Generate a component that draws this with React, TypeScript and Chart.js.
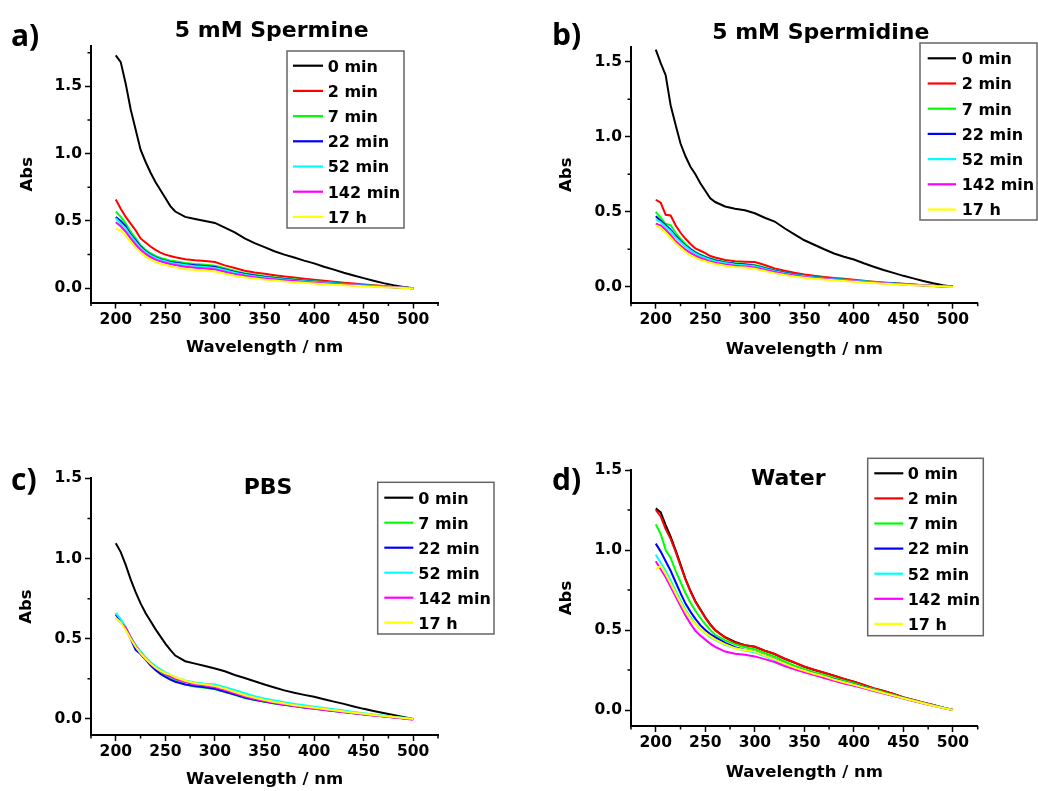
import React, { useEffect, useRef } from "react";
import { Chart, registerables } from "chart.js";

Chart.register(...registerables);

// ---------------- DATA ----------------
const WAVELENGTH = [
  200, 205, 210, 215, 220, 225, 230, 235, 240, 245, 250, 255, 260,
  270, 280, 290, 300, 310, 320, 330, 340, 350, 360, 370, 380, 390, 400,
  410, 420, 430, 440, 450, 460, 470, 480, 490, 500,
];

const LABELS_FULL = ["0 min", "2 min", "7 min", "22 min", "52 min", "142 min", "17 h"];
const LABELS_PBS = ["0 min", "7 min", "22 min", "52 min", "142 min", "17 h"];

const X_TICK_STEP = 25;
const X_LABEL_STEP = 50;
const Y_TICK_STEP = 0.25;
const Y_LABEL_STEP = 0.5;

// a) 5 mM Spermine
const SPERMINE_0 = [1.73, 1.68, 1.52, 1.33, 1.18, 1.03, 0.94, 0.86, 0.79, 0.73, 0.67, 0.61, 0.57, 0.53, 0.515, 0.5, 0.485, 0.45, 0.415, 0.37, 0.335, 0.305, 0.275, 0.25, 0.228, 0.205, 0.185, 0.16, 0.138, 0.115, 0.095, 0.075, 0.056, 0.038, 0.022, 0.01, 0.0];
const SPERMINE_2 = [0.66, 0.59, 0.53, 0.48, 0.43, 0.37, 0.34, 0.31, 0.285, 0.265, 0.25, 0.24, 0.23, 0.215, 0.208, 0.203, 0.195, 0.17, 0.15, 0.13, 0.117, 0.107, 0.097, 0.088, 0.08, 0.071, 0.063, 0.056, 0.048, 0.041, 0.035, 0.028, 0.022, 0.016, 0.01, 0.005, 0.0];
const SPERMINE_7 = [0.57, 0.53, 0.48, 0.42, 0.37, 0.32, 0.285, 0.26, 0.24, 0.225, 0.215, 0.205, 0.2, 0.188, 0.18, 0.175, 0.168, 0.148, 0.128, 0.112, 0.1, 0.09, 0.081, 0.074, 0.066, 0.059, 0.052, 0.046, 0.04, 0.034, 0.029, 0.024, 0.019, 0.014, 0.009, 0.005, 0.0];
const SPERMINE_22 = [0.53, 0.5, 0.46, 0.4, 0.355, 0.31, 0.275, 0.25, 0.23, 0.215, 0.205, 0.195, 0.19, 0.178, 0.17, 0.165, 0.158, 0.14, 0.12, 0.105, 0.094, 0.084, 0.076, 0.069, 0.062, 0.055, 0.049, 0.043, 0.037, 0.032, 0.027, 0.022, 0.017, 0.013, 0.008, 0.004, 0.0];
const SPERMINE_52 = [0.52, 0.48, 0.445, 0.39, 0.345, 0.3, 0.268, 0.245, 0.225, 0.21, 0.2, 0.19, 0.183, 0.172, 0.163, 0.158, 0.15, 0.133, 0.115, 0.1, 0.09, 0.08, 0.072, 0.065, 0.058, 0.052, 0.046, 0.04, 0.035, 0.03, 0.025, 0.021, 0.016, 0.012, 0.008, 0.004, 0.0];
const SPERMINE_142 = [0.49, 0.46, 0.42, 0.37, 0.325, 0.285, 0.255, 0.232, 0.213, 0.2, 0.19, 0.18, 0.172, 0.16, 0.152, 0.147, 0.14, 0.123, 0.105, 0.092, 0.082, 0.073, 0.066, 0.059, 0.053, 0.047, 0.041, 0.036, 0.031, 0.027, 0.022, 0.018, 0.014, 0.01, 0.007, 0.003, 0.0];
const SPERMINE_17H = [0.44, 0.43, 0.39, 0.345, 0.3, 0.265, 0.235, 0.213, 0.195, 0.182, 0.172, 0.163, 0.155, 0.143, 0.136, 0.131, 0.124, 0.108, 0.093, 0.081, 0.072, 0.064, 0.057, 0.051, 0.045, 0.04, 0.035, 0.03, 0.026, 0.022, 0.018, 0.015, 0.011, 0.008, 0.005, 0.002, -0.002];

// b) 5 mM Spermidine
const SPERMIDINE_0 = [1.58, 1.49, 1.41, 1.21, 1.08, 0.955, 0.87, 0.8, 0.75, 0.69, 0.64, 0.59, 0.565, 0.535, 0.52, 0.51, 0.49, 0.46, 0.435, 0.39, 0.35, 0.31, 0.28, 0.25, 0.222, 0.2, 0.182, 0.157, 0.134, 0.112, 0.093, 0.073, 0.056, 0.039, 0.023, 0.01, 0.0];
const SPERMIDINE_2 = [0.58, 0.56, 0.48, 0.475, 0.41, 0.36, 0.32, 0.285, 0.255, 0.24, 0.225, 0.205, 0.195, 0.178, 0.17, 0.167, 0.165, 0.145, 0.122, 0.107, 0.093, 0.082, 0.073, 0.066, 0.059, 0.053, 0.047, 0.04, 0.034, 0.029, 0.024, 0.02, 0.016, 0.011, 0.007, 0.004, 0.0];
const SPERMIDINE_7 = [0.5, 0.46, 0.42, 0.41, 0.36, 0.32, 0.285, 0.255, 0.232, 0.215, 0.2, 0.188, 0.18, 0.166, 0.157, 0.152, 0.145, 0.128, 0.11, 0.096, 0.084, 0.074, 0.066, 0.06, 0.054, 0.048, 0.043, 0.037, 0.032, 0.027, 0.022, 0.018, 0.014, 0.01, 0.006, 0.003, 0.0];
const SPERMIDINE_22 = [0.47, 0.44, 0.41, 0.38, 0.34, 0.305, 0.275, 0.25, 0.228, 0.21, 0.197, 0.185, 0.176, 0.162, 0.153, 0.148, 0.14, 0.124, 0.107, 0.093, 0.082, 0.072, 0.064, 0.058, 0.052, 0.047, 0.042, 0.036, 0.031, 0.026, 0.022, 0.018, 0.014, 0.01, 0.006, 0.003, 0.0];
const SPERMIDINE_52 = [0.45, 0.43, 0.4, 0.37, 0.33, 0.298, 0.268, 0.243, 0.222, 0.205, 0.192, 0.18, 0.171, 0.158, 0.149, 0.144, 0.137, 0.121, 0.104, 0.09, 0.079, 0.07, 0.062, 0.056, 0.05, 0.045, 0.04, 0.035, 0.03, 0.025, 0.021, 0.017, 0.013, 0.009, 0.006, 0.003, 0.0];
const SPERMIDINE_142 = [0.42, 0.41, 0.38, 0.345, 0.305, 0.275, 0.248, 0.226, 0.207, 0.192, 0.18, 0.168, 0.16, 0.148, 0.14, 0.136, 0.128, 0.113, 0.098, 0.085, 0.075, 0.066, 0.059, 0.053, 0.047, 0.042, 0.037, 0.032, 0.028, 0.023, 0.019, 0.016, 0.012, 0.009, 0.005, 0.002, 0.0];
const SPERMIDINE_17H = [0.41, 0.39, 0.36, 0.325, 0.29, 0.26, 0.232, 0.21, 0.193, 0.18, 0.17, 0.16, 0.152, 0.14, 0.132, 0.128, 0.12, 0.105, 0.091, 0.079, 0.069, 0.061, 0.054, 0.048, 0.043, 0.038, 0.033, 0.029, 0.025, 0.021, 0.017, 0.014, 0.011, 0.008, 0.005, 0.002, -0.002];

// c) PBS
const PBS_0 = [1.095, 1.04, 0.96, 0.87, 0.79, 0.72, 0.66, 0.61, 0.56, 0.515, 0.47, 0.43, 0.395, 0.36, 0.345, 0.33, 0.315, 0.297, 0.274, 0.255, 0.235, 0.215, 0.196, 0.178, 0.163, 0.15, 0.138, 0.123, 0.108, 0.094, 0.078, 0.063, 0.05, 0.037, 0.025, 0.012, 0.0];
const PBS_7 = [0.66, 0.62, 0.57, 0.51, 0.46, 0.42, 0.38, 0.345, 0.315, 0.29, 0.27, 0.255, 0.24, 0.215, 0.2, 0.195, 0.185, 0.17, 0.15, 0.13, 0.118, 0.107, 0.097, 0.088, 0.079, 0.072, 0.065, 0.057, 0.05, 0.043, 0.036, 0.029, 0.023, 0.017, 0.011, 0.005, 0.0];
const PBS_22 = [0.65, 0.61, 0.565, 0.5, 0.43, 0.405, 0.37, 0.335, 0.305, 0.28, 0.262, 0.245, 0.232, 0.215, 0.205, 0.198, 0.188, 0.17, 0.152, 0.133, 0.12, 0.108, 0.098, 0.089, 0.08, 0.072, 0.065, 0.057, 0.05, 0.043, 0.036, 0.029, 0.023, 0.017, 0.011, 0.005, 0.0];
const PBS_52 = [0.66, 0.62, 0.57, 0.51, 0.46, 0.42, 0.385, 0.355, 0.33, 0.31, 0.29, 0.275, 0.26, 0.24, 0.228, 0.22, 0.215, 0.198, 0.18, 0.16, 0.142, 0.127, 0.115, 0.104, 0.094, 0.085, 0.076, 0.068, 0.06, 0.052, 0.044, 0.036, 0.028, 0.021, 0.014, 0.007, 0.0];
const PBS_142 = [0.63, 0.6, 0.57, 0.51, 0.455, 0.41, 0.375, 0.345, 0.32, 0.298, 0.28, 0.265, 0.25, 0.23, 0.215, 0.208, 0.198, 0.18, 0.16, 0.14, 0.125, 0.112, 0.1, 0.09, 0.08, 0.072, 0.064, 0.056, 0.049, 0.042, 0.035, 0.028, 0.021, 0.015, 0.009, 0.003, -0.005];
const PBS_17H = [0.63, 0.6, 0.555, 0.5, 0.45, 0.41, 0.375, 0.345, 0.32, 0.3, 0.285, 0.275, 0.26, 0.238, 0.222, 0.215, 0.205, 0.188, 0.168, 0.148, 0.132, 0.118, 0.106, 0.096, 0.086, 0.078, 0.07, 0.062, 0.054, 0.046, 0.039, 0.032, 0.025, 0.018, 0.012, 0.006, 0.0];

// d) Water
const WATER_0 = [1.26, 1.235, 1.155, 1.083, 1.0, 0.91, 0.82, 0.745, 0.68, 0.63, 0.58, 0.535, 0.5, 0.455, 0.425, 0.405, 0.395, 0.37, 0.35, 0.32, 0.296, 0.27, 0.25, 0.233, 0.215, 0.194, 0.177, 0.156, 0.135, 0.119, 0.1, 0.079, 0.062, 0.046, 0.031, 0.015, 0.0];
const WATER_2 = [1.25, 1.21, 1.13, 1.07, 0.99, 0.9, 0.815, 0.74, 0.675, 0.625, 0.575, 0.532, 0.497, 0.452, 0.42, 0.405, 0.395, 0.37, 0.35, 0.322, 0.297, 0.272, 0.252, 0.233, 0.214, 0.194, 0.177, 0.157, 0.136, 0.119, 0.1, 0.08, 0.063, 0.047, 0.031, 0.015, 0.0];
const WATER_7 = [1.16, 1.1, 1.0, 0.95, 0.87, 0.8, 0.73, 0.67, 0.62, 0.575, 0.535, 0.5, 0.47, 0.435, 0.41, 0.392, 0.38, 0.355, 0.333, 0.303, 0.277, 0.255, 0.235, 0.219, 0.199, 0.183, 0.167, 0.147, 0.13, 0.111, 0.094, 0.077, 0.06, 0.044, 0.029, 0.015, 0.0];
const WATER_22 = [1.04, 0.99, 0.93, 0.87, 0.8, 0.73, 0.665, 0.615, 0.57, 0.53, 0.5, 0.475, 0.455, 0.42, 0.392, 0.375, 0.365, 0.34, 0.318, 0.29, 0.265, 0.245, 0.227, 0.21, 0.192, 0.175, 0.16, 0.142, 0.125, 0.107, 0.09, 0.075, 0.058, 0.043, 0.028, 0.014, 0.0];
const WATER_52 = [0.97, 0.92, 0.87, 0.81, 0.745, 0.685, 0.625, 0.58, 0.54, 0.505, 0.478, 0.455, 0.437, 0.408, 0.387, 0.372, 0.36, 0.336, 0.312, 0.285, 0.262, 0.243, 0.225, 0.208, 0.19, 0.173, 0.158, 0.14, 0.123, 0.106, 0.09, 0.074, 0.058, 0.042, 0.028, 0.014, 0.0];
const WATER_142 = [0.93, 0.88, 0.83, 0.77, 0.71, 0.65, 0.59, 0.54, 0.495, 0.465, 0.44, 0.415, 0.395, 0.365, 0.352, 0.345, 0.335, 0.318, 0.3, 0.275, 0.255, 0.235, 0.218, 0.2, 0.183, 0.166, 0.152, 0.136, 0.119, 0.103, 0.087, 0.071, 0.056, 0.041, 0.027, 0.013, 0.0];
const WATER_17H = [0.88, 0.9, 0.85, 0.79, 0.73, 0.67, 0.615, 0.57, 0.535, 0.505, 0.48, 0.46, 0.44, 0.41, 0.385, 0.375, 0.365, 0.34, 0.316, 0.29, 0.265, 0.245, 0.226, 0.21, 0.19, 0.173, 0.157, 0.14, 0.123, 0.106, 0.09, 0.074, 0.058, 0.042, 0.027, 0.013, 0.0];

// ---------------- STYLE ----------------
const COLOR_BY_LABEL: Record<string, string> = {
  "0 min": "#000000",
  "2 min": "#ff0000",
  "7 min": "#00ff00",
  "22 min": "#0000ff",
  "52 min": "#00ffff",
  "142 min": "#ff00ff",
  "17 h": "#ffff00",
};

const FONT = "DejaVu Sans";

type LegendLayout = { x: number; y: number; w: number; h: number; row0: number; rowStep: number; line0: number; line1: number; textX: number };

type PanelCfg = {
  letter: string;
  title: string;
  labels: string[];
  series: number[][];
  yMin: number;
  yMax: number;
  left: number;
  top: number;
  width: number;
  height: number;
  padTop: number;
  padRight: number;
  yAxisWidth: number;
  xAxisHeight: number;
  yTitlePad: number;
  xTitlePad: number;
  titleX: number;
  titleY: number;
  letterX: number;
  letterY: number;
  legend: LegendLayout;
};

const PANELS: PanelCfg[] = [
  {
    letter: "a)", title: "5 mM Spermine", labels: LABELS_FULL,
    series: [SPERMINE_0, SPERMINE_2, SPERMINE_7, SPERMINE_22, SPERMINE_52, SPERMINE_142, SPERMINE_17H],
    yMin: -0.106, yMax: 1.8,
    left: 0, top: 0, width: 519, height: 395,
    padTop: 46, padRight: 81, yAxisWidth: 91, xAxisHeight: 92.5,
    yTitlePad: 17.4, xTitlePad: 37.4,
    titleX: 271.7, titleY: 37.3, letterX: 11, letterY: 46,
    legend: { x: 287, y: 51, w: 117, h: 177, row0: 65.7, rowStep: 25.2, line0: 293, line1: 323, textX: 327.7 },
  },
  {
    letter: "b)", title: "5 mM Spermidine", labels: LABELS_FULL,
    series: [SPERMIDINE_0, SPERMIDINE_2, SPERMIDINE_7, SPERMIDINE_22, SPERMIDINE_52, SPERMIDINE_142, SPERMIDINE_17H],
    yMin: -0.106, yMax: 1.6,
    left: 519, top: 0, width: 519, height: 395,
    padTop: 46.7, padRight: 60.3, yAxisWidth: 112, xAxisHeight: 92.3,
    yTitlePad: 38, xTitlePad: 35.4,
    titleX: 301.8, titleY: 39.3, letterX: 33, letterY: 45,
    legend: { x: 401, y: 43, w: 117, h: 177, row0: 58.3, rowStep: 25.2, line0: 408.7, line1: 437, textX: 442.7 },
  },
  {
    letter: "c)", title: "PBS", labels: LABELS_PBS,
    series: [PBS_0, PBS_7, PBS_22, PBS_52, PBS_142, PBS_17H],
    yMin: -0.1, yMax: 1.5,
    left: 0, top: 395, width: 519, height: 396,
    padTop: 83.3, padRight: 81, yAxisWidth: 91, xAxisHeight: 56,
    yTitlePad: 16.4, xTitlePad: 1.4,
    titleX: 268, titleY: 99, letterX: 11, letterY: 95,
    legend: { x: 377.7, y: 87.3, w: 116.3, h: 151.7, row0: 102.7, rowStep: 25, line0: 384.3, line1: 413.3, textX: 418.3 },
  },
  {
    letter: "d)", title: "Water", labels: LABELS_FULL,
    series: [WATER_0, WATER_2, WATER_7, WATER_22, WATER_52, WATER_142, WATER_17H],
    yMin: -0.1, yMax: 1.5,
    left: 519, top: 395, width: 519, height: 396,
    padTop: 75, padRight: 60.3, yAxisWidth: 112, xAxisHeight: 65,
    yTitlePad: 38, xTitlePad: 8.4,
    titleX: 269.3, titleY: 90, letterX: 33, letterY: 95,
    legend: { x: 348.7, y: 63.3, w: 115.6, h: 177.4, row0: 78.3, rowStep: 25.1, line0: 355.3, line1: 384.3, textX: 388.7 },
  },
];

const isMultiple = (v: number, step: number) => Math.abs(v / step - Math.round(v / step)) < 1e-6;

const decorPlugin = {
  id: "decor",
  afterDraw(chart: any, _args: any, opts: any) {
    const ctx: CanvasRenderingContext2D = chart.ctx;
    const xs = chart.scales.x;
    const ys = chart.scales.y;
    ctx.save();
    // minor ticks
    ctx.strokeStyle = "#000";
    ctx.lineWidth = 1.5;
    ctx.beginPath();
    xs.ticks.forEach((t: any) => {
      if (!isMultiple(t.value, X_LABEL_STEP)) {
        const px = xs.getPixelForValue(t.value);
        ctx.moveTo(px, xs.top);
        ctx.lineTo(px, xs.top + 3.5);
      }
    });
    ys.ticks.forEach((t: any) => {
      if (!isMultiple(t.value, Y_LABEL_STEP)) {
        const py = ys.getPixelForValue(t.value);
        ctx.moveTo(ys.right - 3.5, py);
        ctx.lineTo(ys.right, py);
      }
    });
    ctx.stroke();

    // panel letter
    ctx.fillStyle = "#000";
    ctx.textAlign = "left";
    ctx.textBaseline = "alphabetic";
    ctx.font = 'bold 30px "Open Sans"';
    ctx.fillText(opts.letter, opts.letterX, opts.letterY);

    // panel title
    ctx.textAlign = "center";
    ctx.font = `bold 22px "${FONT}"`;
    ctx.fillText(opts.title, opts.titleX, opts.titleY);

    // legend
    const lg: LegendLayout = opts.legend;
    ctx.fillStyle = "#ffffff";
    ctx.fillRect(lg.x, lg.y, lg.w, lg.h);
    ctx.strokeStyle = "#666666";
    ctx.lineWidth = 1.5;
    ctx.strokeRect(lg.x, lg.y, lg.w, lg.h);
    ctx.font = `bold 16px "${FONT}"`;
    ctx.textAlign = "left";
    chart.data.datasets.forEach((ds: any, i: number) => {
      const cy = lg.row0 + i * lg.rowStep;
      ctx.strokeStyle = ds.borderColor;
      ctx.lineWidth = 2.2;
      ctx.beginPath();
      ctx.moveTo(lg.line0, cy);
      ctx.lineTo(lg.line1, cy);
      ctx.stroke();
      ctx.fillStyle = "#000";
      ctx.fillText(ds.label, lg.textX, cy + 5.8);
    });
    ctx.restore();
  },
};

function Panel({ cfg }: { cfg: PanelCfg }) {
  const ref = useRef<HTMLCanvasElement | null>(null);
  useEffect(() => {
    if (!ref.current) return;
    const n = cfg.labels.length;
    const datasets = cfg.labels.map((label, i) => ({
      label,
      data: WAVELENGTH.map((x, k) => ({ x, y: cfg.series[i][k] })),
      borderColor: COLOR_BY_LABEL[label],
      backgroundColor: COLOR_BY_LABEL[label],
      borderWidth: 2,
      pointRadius: 0,
      tension: 0,
      fill: false,
      order: n - i,
    }));
    const tickFont = { family: FONT, weight: "bold" as const, size: 15.5 };
    const titleFont = { family: FONT, weight: "bold" as const, size: 16.5 };
    const chart = new Chart(ref.current, {
      type: "line",
      data: { datasets },
      plugins: [decorPlugin],
      options: {
        animation: false,
        responsive: false,
        maintainAspectRatio: false,
        events: [],
        layout: { padding: { top: cfg.padTop, right: cfg.padRight, left: 0, bottom: 0 } },
        plugins: {
          legend: { display: false },
          tooltip: { enabled: false },
          title: { display: false },
          decor: {
            letter: cfg.letter, letterX: cfg.letterX, letterY: cfg.letterY,
            title: cfg.title, titleX: cfg.titleX, titleY: cfg.titleY,
            legend: cfg.legend,
          },
        } as any,
        scales: {
          x: {
            type: "linear",
            min: 175,
            max: 525,
            afterFit: (s: any) => { s.height = cfg.xAxisHeight; },
            ticks: {
              stepSize: X_TICK_STEP,
              autoSkip: false,
              includeBounds: false,
              maxRotation: 0,
              padding: 2,
              color: "#000",
              font: tickFont,
              callback: (v: any) => (isMultiple(Number(v), X_LABEL_STEP) ? String(Math.round(Number(v))) : ""),
            },
            grid: {
              display: true,
              drawOnChartArea: false,
              drawTicks: true,
              tickLength: 6,
              tickWidth: 1.5,
              tickColor: (c: any) => (c.tick && isMultiple(c.tick.value, X_LABEL_STEP) ? "#000" : "rgba(0,0,0,0)"),
            },
            border: { display: true, color: "#000", width: 2 },
            title: {
              display: true,
              text: "Wavelength / nm",
              color: "#000",
              font: titleFont,
              padding: { top: 0, bottom: cfg.xTitlePad },
            },
          },
          y: {
            type: "linear",
            min: cfg.yMin,
            max: cfg.yMax,
            afterFit: (s: any) => { s.width = cfg.yAxisWidth; },
            ticks: {
              stepSize: Y_TICK_STEP,
              includeBounds: false,
              padding: 3,
              color: "#000",
              font: tickFont,
              callback: (v: any) => (isMultiple(Number(v), Y_LABEL_STEP) ? Number(v).toFixed(1) : ""),
            },
            grid: {
              display: true,
              drawOnChartArea: false,
              drawTicks: true,
              tickLength: 6,
              tickWidth: 1.5,
              tickColor: (c: any) => (c.tick && isMultiple(c.tick.value, Y_LABEL_STEP) ? "#000" : "rgba(0,0,0,0)"),
            },
            border: { display: true, color: "#000", width: 2 },
            title: {
              display: true,
              text: "Abs",
              color: "#000",
              font: titleFont,
              padding: { top: cfg.yTitlePad, bottom: 0 },
            },
          },
        },
      } as any,
    });
    return () => chart.destroy();
  }, [cfg]);
  return (
    <canvas
      ref={ref}
      width={cfg.width}
      height={cfg.height}
      style={{ position: "absolute", left: cfg.left, top: cfg.top, width: cfg.width, height: cfg.height }}
    />
  );
}

export default function App() {
  return (
    <div style={{ position: "absolute", left: 0, top: 0, width: 1038, height: 791, background: "#ffffff", overflow: "hidden" }}>
      {PANELS.map((p) => (
        <Panel key={p.letter} cfg={p} />
      ))}
    </div>
  );
}
